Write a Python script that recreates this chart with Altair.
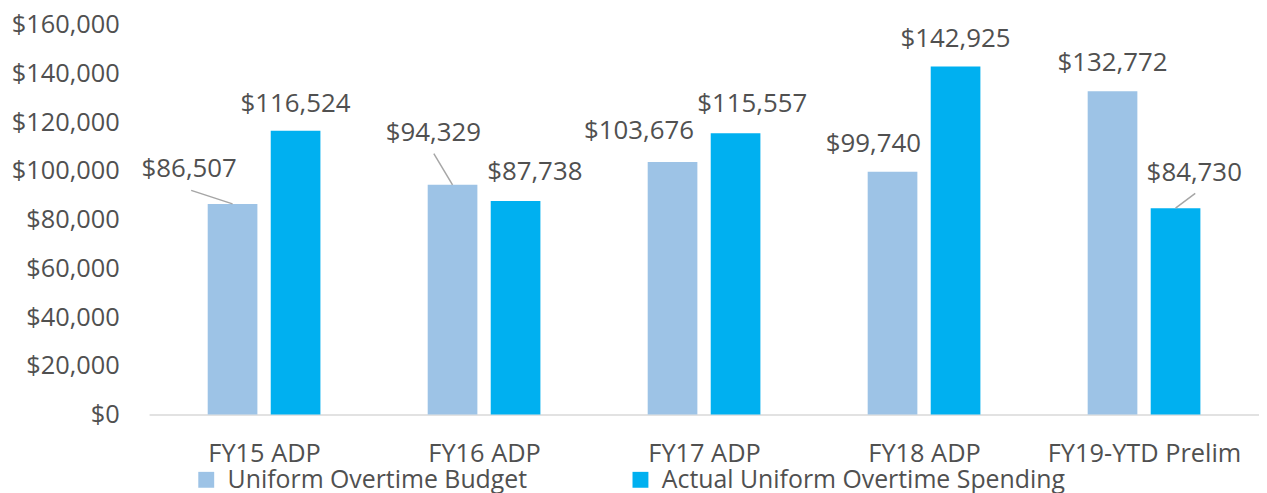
import json
import altair as alt
import pandas as pd

# ---- data ----
categories = ["FY15 ADP", "FY16 ADP", "FY17 ADP", "FY18 ADP", "FY19-YTD Prelim"]
series_names = ["Uniform Overtime Budget", "Actual Uniform Overtime Spending"]
budget = [86507, 94329, 103676, 99740, 132772]
actual = [116524, 87738, 115557, 142925, 84730]

# ---- layout / style ----
W, H = 1117, 392
Y_MAX = 160000
PX_X = W / len(categories)      # pixels per category unit
PX_Y = H / Y_MAX                # pixels per dollar
BAR_SHIFT = 32                  # px from group centre to bar centre
colors = ["#9DC3E6", "#00B0F0"]
TEXT = "#505050"
FONT = "Open Sans"

# label centre offsets (px) from bar-top centre: right, up
label_dx = [[-44, -19.5, -34, -19.5, 0], [0, 19.5, 17, 0, 19]]
label_up = [[34.6, 52.5, 31.6, 28, 28.5], [27, 28.6, 29, 28, 35.5]]
# leader-line end offsets (px) from bar-top centre: right, up (None = no leader)
leader = [[(-42, 13.6), (-19, 31.5), None, None, None],
          [None, None, None, None, (20, 15)]]

rows = []
for s, vals in enumerate([budget, actual]):
    for i, v in enumerate(vals):
        pos = i + (-1 if s == 0 else 1) * BAR_SHIFT / PX_X
        r = {
            "series": series_names[s],
            "pos": pos,
            "value": v,
            "lx": pos + label_dx[s][i] / PX_X,
            "ly": v + label_up[s][i] / PX_Y,
        }
        if leader[s][i] is not None:
            ex, ey = leader[s][i]
            r["ex"] = pos + ex / PX_X
            r["ey"] = v + ey / PX_Y
        rows.append(r)
df = pd.DataFrame(rows)
lead_df = df.dropna(subset=["ex"])

xscale = alt.Scale(domain=[-0.5, len(categories) - 0.5], nice=False, zero=False)
yscale = alt.Scale(domain=[0, Y_MAX], nice=False)
cscale = alt.Scale(domain=series_names, range=colors)

label_expr = json.dumps(categories) + "[datum.value]"

bars = alt.Chart(df).mark_bar(size=50).encode(
    x=alt.X("pos:Q", scale=xscale,
            axis=alt.Axis(values=list(range(len(categories))), labelExpr=label_expr,
                          title=None, ticks=False, tickSize=0, grid=False,
                          domainColor="#D9D9D9", domainWidth=1.5,
                          labelFont=FONT, labelFontSize=25.5, labelColor=TEXT,
                          labelPadding=27, labelLimit=0)),
    y=alt.Y("value:Q", scale=yscale,
            axis=alt.Axis(values=list(range(0, Y_MAX + 1, 20000)), format="$,.0f",
                          title=None, ticks=False, tickSize=0, grid=False, domain=False,
                          labelFont=FONT, labelFontSize=25.5, labelColor=TEXT,
                          labelPadding=30, labelLimit=0)),
    color=alt.Color("series:N", scale=cscale, sort=series_names,
                    legend=alt.Legend(title=None, orient="none", direction="horizontal",
                                      legendX=45, legendY=445,
                                      symbolType="square", symbolSize=256,
                                      symbolStrokeWidth=0, labelOffset=9,
                                      columnPadding=101, padding=0, labelLimit=0,
                                      labelFont=FONT, labelFontSize=25,
                                      labelColor=TEXT)),
)

leaders = alt.Chart(lead_df).mark_rule(color="#A6A6A6", strokeWidth=1.5).encode(
    x=alt.X("pos:Q", scale=xscale),
    x2="ex:Q",
    y=alt.Y("value:Q", scale=yscale),
    y2="ey:Q",
)

labels = alt.Chart(df).mark_text(font=FONT, fontSize=26, color=TEXT,
                                 align="center", baseline="middle").encode(
    x=alt.X("lx:Q", scale=xscale),
    y=alt.Y("ly:Q", scale=yscale),
    text=alt.Text("value:Q", format="$,.0f"),
)

chart = alt.layer(bars, leaders, labels).properties(
    width=W, height=H,
    autosize="none",
    padding={"left": 142, "top": 15.5, "right": 0, "bottom": 85},
).configure_view(stroke=None)

chart.save("out.html", embed_options={"renderer": "svg", "actions": False})
